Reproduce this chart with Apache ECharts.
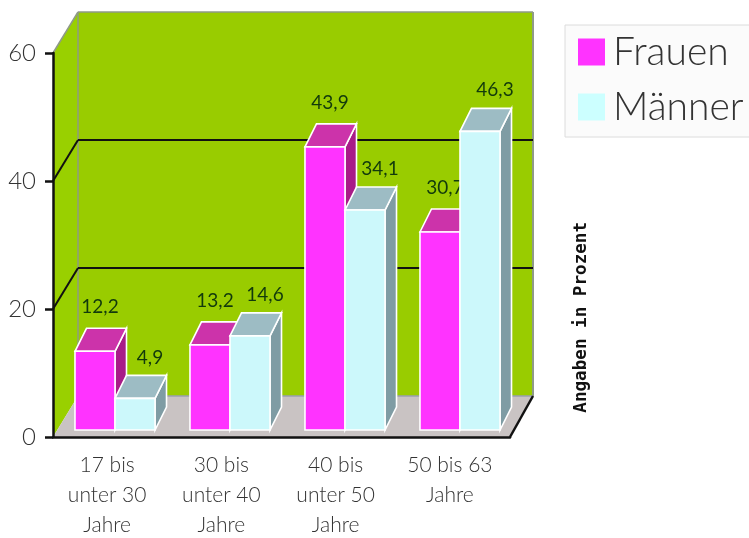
<!DOCTYPE html>
<html><head><meta charset="utf-8">
<style>html,body{margin:0;padding:0;background:#fff}#c{width:749px;height:538px}</style>
<script src="https://cdn.jsdelivr.net/npm/echarts@6/dist/echarts.min.js"></script>
</head><body><div id="c"></div>
<script>
const categories = ['17 bis\nunter 30\nJahre','30 bis\nunter 40\nJahre','40 bis\nunter 50\nJahre','50 bis 63\nJahre'];
const frauen = [12.2, 13.2, 43.9, 30.7];
const maenner = [4.9, 14.6, 34.1, 46.3];
const yTicks = [0, 20, 40, 60];
const axisTitle = 'Angaben in Prozent';

const wallDepth = [25, -41], wallDepthRight = [23, -41], barDepth = [11.5, -23];
const FONT = 'Lato, "Open Sans", sans-serif';
const fmt = v => String(v).replace('.', ',');
const chart = echarts.init(document.getElementById('c'));

function shift(p, d) { return [p[0] + d[0], p[1] + d[1]]; }
function poly(points, fill, stroke, lw) {
  return { type: 'polygon', shape: { points }, style: { fill, stroke: stroke || null, lineWidth: lw || 0 } };
}
function line(a, b, stroke, lw) {
  return { type: 'line', shape: { x1: a[0], y1: a[1], x2: b[0], y2: b[1] }, style: { stroke, lineWidth: lw } };
}

function renderWalls(params, api) {
  const band = api.size([1, 0])[0];
  const xL = api.coord([0, 0])[0] - band / 2, xR = api.coord([categories.length - 1, 0])[0] + band / 2;
  const y0 = api.coord([0, 0])[1], yT = api.coord([0, yTicks[yTicks.length - 1]])[1];
  const a = [xL, y0], b = [xR, y0], c = [xL, yT];
  const A = shift(a, wallDepth), B = shift(b, wallDepthRight), C = shift(c, wallDepth);
  const D = [B[0], C[1]];
  const kids = [
    poly([A, B, D, C], '#99cc00'),
    poly([a, A, C, c], '#99d000'),
    poly([a, b, B, A], '#c9c3c3'),
    line(A, B, '#9a9fb0', 1.5),
    line(A, C, '#8f9d80', 1.5),
    line(B, D, '#8f9a88', 2),
    line(C, D, '#8f9a88', 1.5),
    line(c, C, '#8f9a88', 1.5)
  ];
  yTicks.slice(1, -1).forEach(t => {
    const p = [xL, api.coord([0, t])[1]], P = shift(p, wallDepth);
    kids.push(line(p, P, '#111', 2), line(P, [B[0], P[1]], '#111', 2));
  });
  kids.push(line(b, B, '#111', 2.5));
  return { type: 'group', children: kids };
}

function barRenderer(slot, front, top, side, labelDx, labelDy) {
  return function (params, api) {
    const i = api.value(0), v = api.value(1);
    const band = api.size([1, 0])[0], w = band * 0.348;
    const cx = api.coord([i, 0])[0];
    const x0 = cx + (slot === 0 ? -w : 0), x1 = x0 + w;
    const y0 = api.coord([i, 0])[1], y1 = api.coord([i, v])[1];
    const tl = [x0, y1], tr = [x1, y1], br = [x1, y0];
    const tlB = shift(tl, barDepth), trB = shift(tr, barDepth), brB = shift(br, barDepth);
    return {
      type: 'group',
      children: [
        poly([tr, trB, brB, br], side, '#fff', 1.6),
        poly([tl, tlB, trB, tr], top, '#fff', 1.6),
        poly([tl, tr, br, [x0, y0]], front, '#fff', 1.6),
        { type: 'text', z2: 50, style: {
            x: (x0 + x1) / 2 + labelDx, y: trB[1] - labelDy, text: fmt(v),
            fill: '#123a0c', font: '400 19px ' + FONT, align: 'center', verticalAlign: 'middle' } }
      ]
    };
  };
}

const toPairs = arr => arr.map((v, i) => [i, v]);

chart.setOption({
  animation: false,
  backgroundColor: '#fff',
  grid: [
    { left: 53, top: 53, width: 457, height: 384, outerBoundsMode: 'none' },
    { left: 57.5, top: 43, width: 460, height: 387, outerBoundsMode: 'none' }
  ],
  xAxis: [
    { type: 'category', gridIndex: 0, data: categories, z: 5,
      axisLine: { lineStyle: { color: '#111', width: 2.5 } },
      axisTick: { alignWithLabel: false, length: 9, lineStyle: { color: '#111', width: 2.5 } },
      axisLabel: { color: '#333', fontFamily: FONT, fontWeight: 300, fontSize: 21, lineHeight: 30, margin: 13, interval: 0, verticalAlign: 'top', padding: [0, 6, 0, 0] } },
    { type: 'category', gridIndex: 1, data: categories, show: false }
  ],
  yAxis: [
    { type: 'value', gridIndex: 0, min: 0, max: 60, interval: 20, z: 5,
      axisLine: { show: true, lineStyle: { color: '#111', width: 2.5 } },
      axisTick: { show: true, length: 8, lineStyle: { color: '#111', width: 2.5 } },
      splitLine: { show: false },
      axisLabel: { color: '#333', fontFamily: FONT, fontWeight: 300, fontSize: 24, margin: 17 } },
    { type: 'value', gridIndex: 1, min: 0, max: 60, show: false, splitLine: { show: false } }
  ],
  legend: {
    orient: 'vertical', left: 565, top: 25, itemWidth: 27, itemHeight: 27, itemGap: 15,
    padding: [7, 14, 10, 13], backgroundColor: '#fbfbfb', borderColor: '#dcdcdc', borderWidth: 1, icon: 'rect',
    data: ['Frauen', 'Männer'],
    textStyle: { color: '#333', fontFamily: FONT, fontWeight: 300, fontSize: 39, lineHeight: 40, padding: [0, 0, 0, 3] }
  },
  graphic: [{
    type: 'text', left: 572, top: 222, z: 10, rotation: Math.PI / 2,
    style: { text: axisTitle, fill: '#111', font: 'bold 17.6px "DejaVu Sans Mono", monospace' }
  }],
  series: [
    { type: 'custom', name: '_walls', xAxisIndex: 0, yAxisIndex: 0, z: 1, silent: true, clip: false, data: [[0, 0]], renderItem: renderWalls },
    { type: 'custom', name: 'Frauen', xAxisIndex: 1, yAxisIndex: 1, z: 3, clip: false, itemStyle: { color: '#ff33ff' },
      encode: { x: 0, y: 1 }, data: toPairs(frauen), renderItem: barRenderer(0, '#ff33ff', '#cc33aa', '#a81c88', 5, 21) },
    { type: 'custom', name: 'Männer', xAxisIndex: 1, yAxisIndex: 1, z: 4, clip: false, itemStyle: { color: '#ccffff' },
      encode: { x: 0, y: 1 }, data: toPairs(maenner), renderItem: barRenderer(1, '#ccf8fb', '#9dbcc4', '#7f9ca4', 15, 18) }
  ]
});
</script></body></html>
